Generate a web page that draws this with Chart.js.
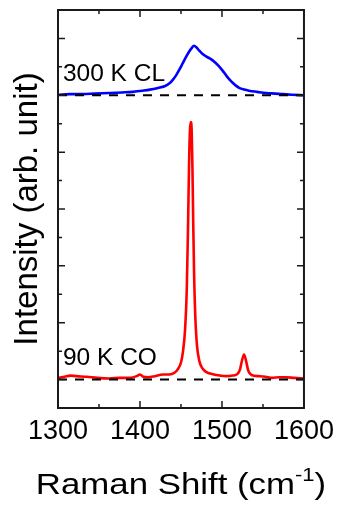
<!DOCTYPE html>
<html>
<head>
<meta charset="utf-8">
<script src="https://cdn.jsdelivr.net/npm/chart.js@4.4.1/dist/chart.umd.min.js"></script>
<style>
html, body { margin: 0; padding: 0; background: #fff; }
#wrap { width: 341px; height: 505px; }
</style>
</head>
<body>
<div id="wrap"><canvas id="raman"></canvas></div>
<script>
// 90 K CO spectrum (red), baseline at 0
const redShift = [1300, 1308, 1315, 1322, 1335, 1348, 1363, 1375, 1388, 1396, 1400, 1404, 1410, 1418, 1428, 1436, 1442, 1446,
  1450, 1452.5, 1455, 1457, 1458.5, 1460, 1461, 1462, 1463, 1464, 1465, 1466, 1467.5, 1469.5, 1472.5, 1476, 1480,
  1490, 1498, 1505, 1513, 1519, 1522, 1524.5, 1527, 1529.5, 1532, 1536, 1545, 1553, 1561, 1570, 1578, 1588, 1600];
const redIntensity = [0.03, 0.05, 0.07, 0.06, 0.05, 0.03, 0.02, 0.03, 0.03, 0.06, 0.09, 0.05, 0.04, 0.06, 0.09, 0.09, 0.12, 0.18,
  0.30, 0.50, 0.88, 1.55, 2.6, 3.9, 4.4, 4.53, 4.4, 3.7, 2.7, 1.85, 1.1, 0.6, 0.32, 0.2, 0.14,
  0.09, 0.07, 0.06, 0.07, 0.10, 0.18, 0.34, 0.44, 0.32, 0.16, 0.08, 0.06, 0.05, 0.03, 0.04, 0.04, 0.03, 0.02];

// 300 K CL spectrum (blue), offset to baseline 5
const blueShift = [1300, 1315, 1330, 1345, 1363, 1378, 1391, 1402, 1412, 1422, 1430, 1436, 1440, 1444, 1448, 1452, 1456,
  1460, 1463, 1466, 1469, 1472, 1476, 1481, 1485, 1489, 1493, 1497, 1501, 1505, 1509, 1513, 1517, 1521, 1527,
  1533, 1543, 1554, 1565, 1574, 1586, 1600];
const blueIntensity = [5.01, 5.02, 5.02, 5.03, 5.04, 5.05, 5.06, 5.08, 5.10, 5.13, 5.16, 5.21, 5.27, 5.35, 5.45, 5.56, 5.67,
  5.77, 5.83, 5.87, 5.84, 5.79, 5.73, 5.68, 5.65, 5.61, 5.56, 5.50, 5.43, 5.35, 5.28, 5.22, 5.17, 5.13, 5.10,
  5.08, 5.06, 5.04, 5.03, 5.02, 5.01, 5.00];

const baseShift = [1300, 1600];
const redBase = [0, 0];
const blueBase = [5, 5];

const labelText = ["300 K CL", "90 K CO"];
const labelShift = [1306, 1306];
const labelY = [5.25, 0.25];

const pts = (xs, ys) => xs.map((x, i) => ({ x, y: ys[i] }));
const FONT = "'Liberation Sans', Arial, sans-serif";

const framePlugin = {
  id: 'frame',
  afterDatasetsDraw(chart) {
    const { ctx, chartArea: a, scales: { x, y } } = chart;
    ctx.save();
    ctx.strokeStyle = '#1a1a1a';
    ctx.lineWidth = 1.5;
    ctx.beginPath();
    for (const t of x.ticks) {
      const px = x.getPixelForValue(t.value);
      const len = t.value % 100 === 0 ? 7 : 4;
      ctx.moveTo(px, a.bottom); ctx.lineTo(px, a.bottom - len);
      ctx.moveTo(px, a.top); ctx.lineTo(px, a.top + len);
    }
    for (const t of y.ticks) {
      const py = y.getPixelForValue(t.value);
      const len = Number.isInteger(t.value) ? 7 : 4;
      ctx.moveTo(a.left, py); ctx.lineTo(a.left + len, py);
      ctx.moveTo(a.right, py); ctx.lineTo(a.right - len, py);
    }
    ctx.stroke();
    ctx.lineWidth = 2;
    ctx.strokeRect(a.left, a.top, a.right - a.left, a.bottom - a.top);

    // curve labels
    ctx.fillStyle = '#000';
    ctx.font = '24.5px ' + FONT;
    ctx.textBaseline = 'alphabetic';
    ctx.textAlign = 'left';
    labelText.forEach((s, i) => {
      ctx.fillText(s, x.getPixelForValue(labelShift[i]), y.getPixelForValue(labelY[i]));
    });

    // x axis title with superscript
    const main = 'Raman Shift (cm', sup = '-1', tail = ')';
    const sx = 1.16;
    ctx.font = '30px ' + FONT;
    const w1 = ctx.measureText(main).width, w3 = ctx.measureText(tail).width;
    ctx.font = '19px ' + FONT;
    const w2 = ctx.measureText(sup).width;
    const total = (w1 + w2 + w3) * sx;
    const cx = (a.left + a.right) / 2;
    const base = 494;
    ctx.translate(cx - total / 2, base);
    ctx.scale(sx, 1);
    ctx.font = '30px ' + FONT;
    ctx.fillText(main, 0, 0);
    ctx.font = '19px ' + FONT;
    ctx.fillText(sup, w1, -13);
    ctx.font = '30px ' + FONT;
    ctx.fillText(tail, w1 + w2, 0);
    ctx.restore();
  }
};

new Chart(document.getElementById('raman'), {
  type: 'line',
  data: {
    datasets: [
      { data: pts(baseShift, blueBase), borderColor: '#000', borderWidth: 2, borderDash: [9, 8], pointRadius: 0 },
      { data: pts(baseShift, redBase), borderColor: '#000', borderWidth: 2, borderDash: [9, 8], pointRadius: 0 },
      { data: pts(blueShift, blueIntensity), borderColor: '#0000ff', borderWidth: 2.6, pointRadius: 0, cubicInterpolationMode: 'monotone' },
      { data: pts(redShift, redIntensity), borderColor: '#ff0000', borderWidth: 2.6, pointRadius: 0, cubicInterpolationMode: 'monotone' }
    ]
  },
  options: {
    responsive: true,
    maintainAspectRatio: false,
    animation: false,
    layout: { padding: { top: 10, right: 36, left: 0, bottom: 0 } },
    plugins: { legend: { display: false }, tooltip: { enabled: false } },
    scales: {
      x: {
        type: 'linear', min: 1300, max: 1600,
        grid: { display: false, drawTicks: false },
        border: { display: false },
        ticks: {
          stepSize: 50, autoSkip: false, maxRotation: 0, padding: 7, color: '#000',
          font: { size: 27, family: FONT },
          callback: v => (v % 100 === 0 ? String(v) : '')
        },
        afterFit: s => { s.height = 97; }
      },
      y: {
        type: 'linear', min: -0.5, max: 6.5,
        grid: { display: false, drawTicks: false },
        border: { display: false },
        ticks: { stepSize: 0.5, display: false },
        title: { display: true, text: 'Intensity (arb. unit)', color: '#000', font: { size: 33, family: FONT }, padding: { top: 8, bottom: 0 } },
        afterFit: s => { s.width = 58; }
      }
    }
  },
  plugins: [framePlugin]
});
</script>
</body>
</html>
